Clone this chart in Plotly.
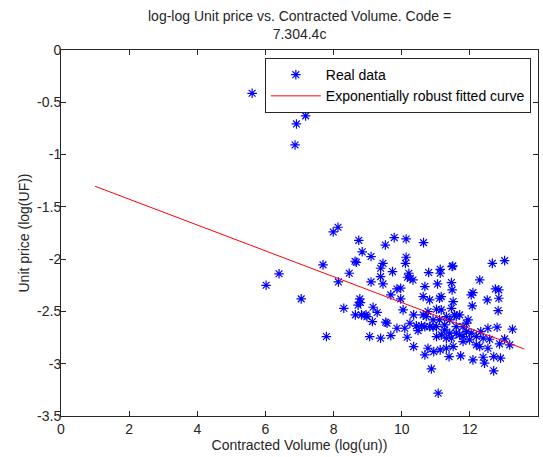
import plotly.graph_objects as go

# Real data (log contracted volume, log unit price)
vol = [5.61, 6.91, 6.87, 7.18, 6.02, 6.40, 7.05, 7.69, 7.79,
       7.99, 8.13, 8.74, 8.84, 9.10, 8.63, 8.67, 9.52, 9.78, 10.13, 10.64,
       10.13, 10.11, 9.45, 9.38, 9.73, 9.38, 9.45, 8.46, 8.14, 9.10,
       8.77, 8.72, 8.79, 8.30, 8.64, 8.82, 8.95, 8.98, 9.16, 9.28, 9.14,
       9.53, 9.57, 9.68, 9.86, 9.97, 9.97, 10.04, 10.21, 10.25, 10.33, 10.17,
       10.79, 11.13, 11.13, 11.48, 11.50, 11.05, 10.68, 11.46, 11.48,
       12.09, 12.04, 12.29, 12.66, 13.02, 12.75, 12.85, 12.51, 12.85,
       12.07, 12.83, 10.63, 10.82, 11.16, 11.11, 11.16, 11.02, 10.77,
       11.51, 11.46, 11.55, 11.60, 11.70, 10.35, 10.63, 10.72,
       10.43, 10.58, 10.68, 10.82, 10.92, 9.86, 10.09, 9.06, 9.38, 9.68,
       10.16, 10.48, 11.02, 11.26, 11.41, 11.60, 11.70, 11.80, 11.95, 11.90,
       12.32, 12.53, 12.80, 13.25, 13.02, 13.17, 12.87, 12.58, 12.39, 12.19,
       10.35, 10.77, 10.94, 11.13, 10.68, 11.39, 11.73, 11.31, 11.51,
       12.09, 12.43, 12.39, 12.70, 12.90, 10.87, 12.70, 11.07, 12.53, 12.29,
       11.99, 11.80, 11.41, 11.26, 11.11, 11.31, 11.60, 11.16, 11.46, 11.90,
       12.04, 12.19, 10.92, 11.02, 10.24, 11.31, 11.80]
price = [-0.414, -0.707, -0.908, -0.63, -2.25, -2.14, -2.38, -2.055, -2.74,
         -1.74, -1.695, -1.82, -1.93, -1.975, -2.02, -2.03, -1.865, -1.794, -1.807, -1.842,
         -1.982, -2.04, -2.04, -2.087, -2.119, -2.167, -2.237, -2.135, -2.218, -2.218,
         -2.38, -2.44, -2.415, -2.47, -2.533, -2.533, -2.533, -2.55, -2.46, -2.51, -2.597,
         -2.603, -2.613, -2.342, -2.285, -2.278, -2.38, -2.485, -2.135, -2.183, -2.199, -2.173,
         -2.128, -2.097, -2.135, -2.071, -2.065, -2.237, -2.262, -2.224, -2.294,
         -2.32, -2.342, -2.199, -2.04, -2.014, -2.285, -2.294, -2.39, -2.374,
         -2.447, -2.492, -2.358, -2.39, -2.358, -2.374, -2.485, -2.479, -2.501,
         -2.406, -2.47, -2.533, -2.549, -2.533, -2.533, -2.533, -2.549,
         -2.638, -2.638, -2.645, -2.645, -2.651, -2.661, -2.661, -2.74, -2.756, -2.731,
         -2.747, -2.683, -2.74, -2.677, -2.708, -2.708, -2.724, -2.74, -2.581, -2.613,
         -2.693, -2.661, -2.651, -2.67, -2.763, -2.82, -2.81, -2.766, -2.756, -2.74,
         -2.836, -2.852, -2.884, -2.868, -2.916, -2.932, -2.925, -2.852, -2.836,
         -2.963, -2.995, -2.938, -2.932, -2.947, -3.05, -3.068, -3.282, -2.852, -2.836,
         -2.772, -2.788, -2.581, -2.629, -2.581, -2.549, -2.645, -2.724, -2.756, -2.693,
         -2.708, -2.82, -2.581, -2.645, -2.613, -2.756, -2.645]

# Fitted curve
fit_vol = [1.0, 13.6]
fit_price = [-1.303, -2.860]

x_ticks = [0, 2, 4, 6, 8, 10, 12, 14]
y_ticks = [0, -0.5, -1, -1.5, -2, -2.5, -3, -3.5]
y_tick_text = ["0", "-0.5", "-1", "-1.5", "-2", "-2.5", "-3", "-3.5"]

title_text = "log-log Unit price vs. Contracted Volume. Code =<br>7.304.4c"

font_family = "Liberation Sans, Arial, sans-serif"
fs = 14

fig = go.Figure()
fig.add_trace(go.Scatter(
    x=vol, y=price, mode="markers", name="Real data",
    marker=dict(symbol="asterisk-open", size=8, color="#0000ff",
                line=dict(color="#0000ff", width=1.2)),
))
fig.add_trace(go.Scatter(
    x=fit_vol, y=fit_price, mode="lines", name="Exponentially robust fitted curve",
    line=dict(color="#ff0000", width=1),
))

axis_common = dict(
    showline=True, linecolor="#262626", linewidth=1, mirror="ticks",
    ticks="inside", ticklen=5, tickcolor="#262626", showgrid=False, zeroline=False,
    automargin=False,
    tickfont=dict(family=font_family, size=fs, color="#262626"),
)

fig.update_layout(
    width=543, height=457,
    paper_bgcolor="white", plot_bgcolor="white",
    margin=dict(l=61, r=5, t=50, b=41),
    font=dict(family=font_family, size=fs, color="#262626"),
    xaxis=dict(range=[0, 14], tickvals=x_ticks,
               title=dict(text="Contracted Volume (log(un))", standoff=4,
                          font=dict(family=font_family, size=fs)),
               **axis_common),
    yaxis=dict(range=[-3.5, 0], tickvals=y_ticks, ticktext=y_tick_text,
               ticklabelstandoff=-4,
               title=dict(text="Unit price (log(UF))", standoff=4,
                          font=dict(family=font_family, size=fs)),
               **axis_common),
    legend=dict(x=0.985, y=0.978, xanchor="right", yanchor="top",
                bordercolor="#262626", borderwidth=1, bgcolor="white",
                font=dict(family=font_family, size=fs, color="#000000"),
                tracegroupgap=0, itemwidth=50),
    showlegend=True,
    annotations=[dict(text=title_text, xref="paper", yref="paper",
                      x=0.5, y=1.068, xanchor="center", yanchor="middle",
                      showarrow=False,
                      font=dict(family=font_family, size=fs, color="#262626"))],
)

fig.write_html("out.html", config={"displayModeBar": False},
               post_script="document.body.style.margin='0';")
